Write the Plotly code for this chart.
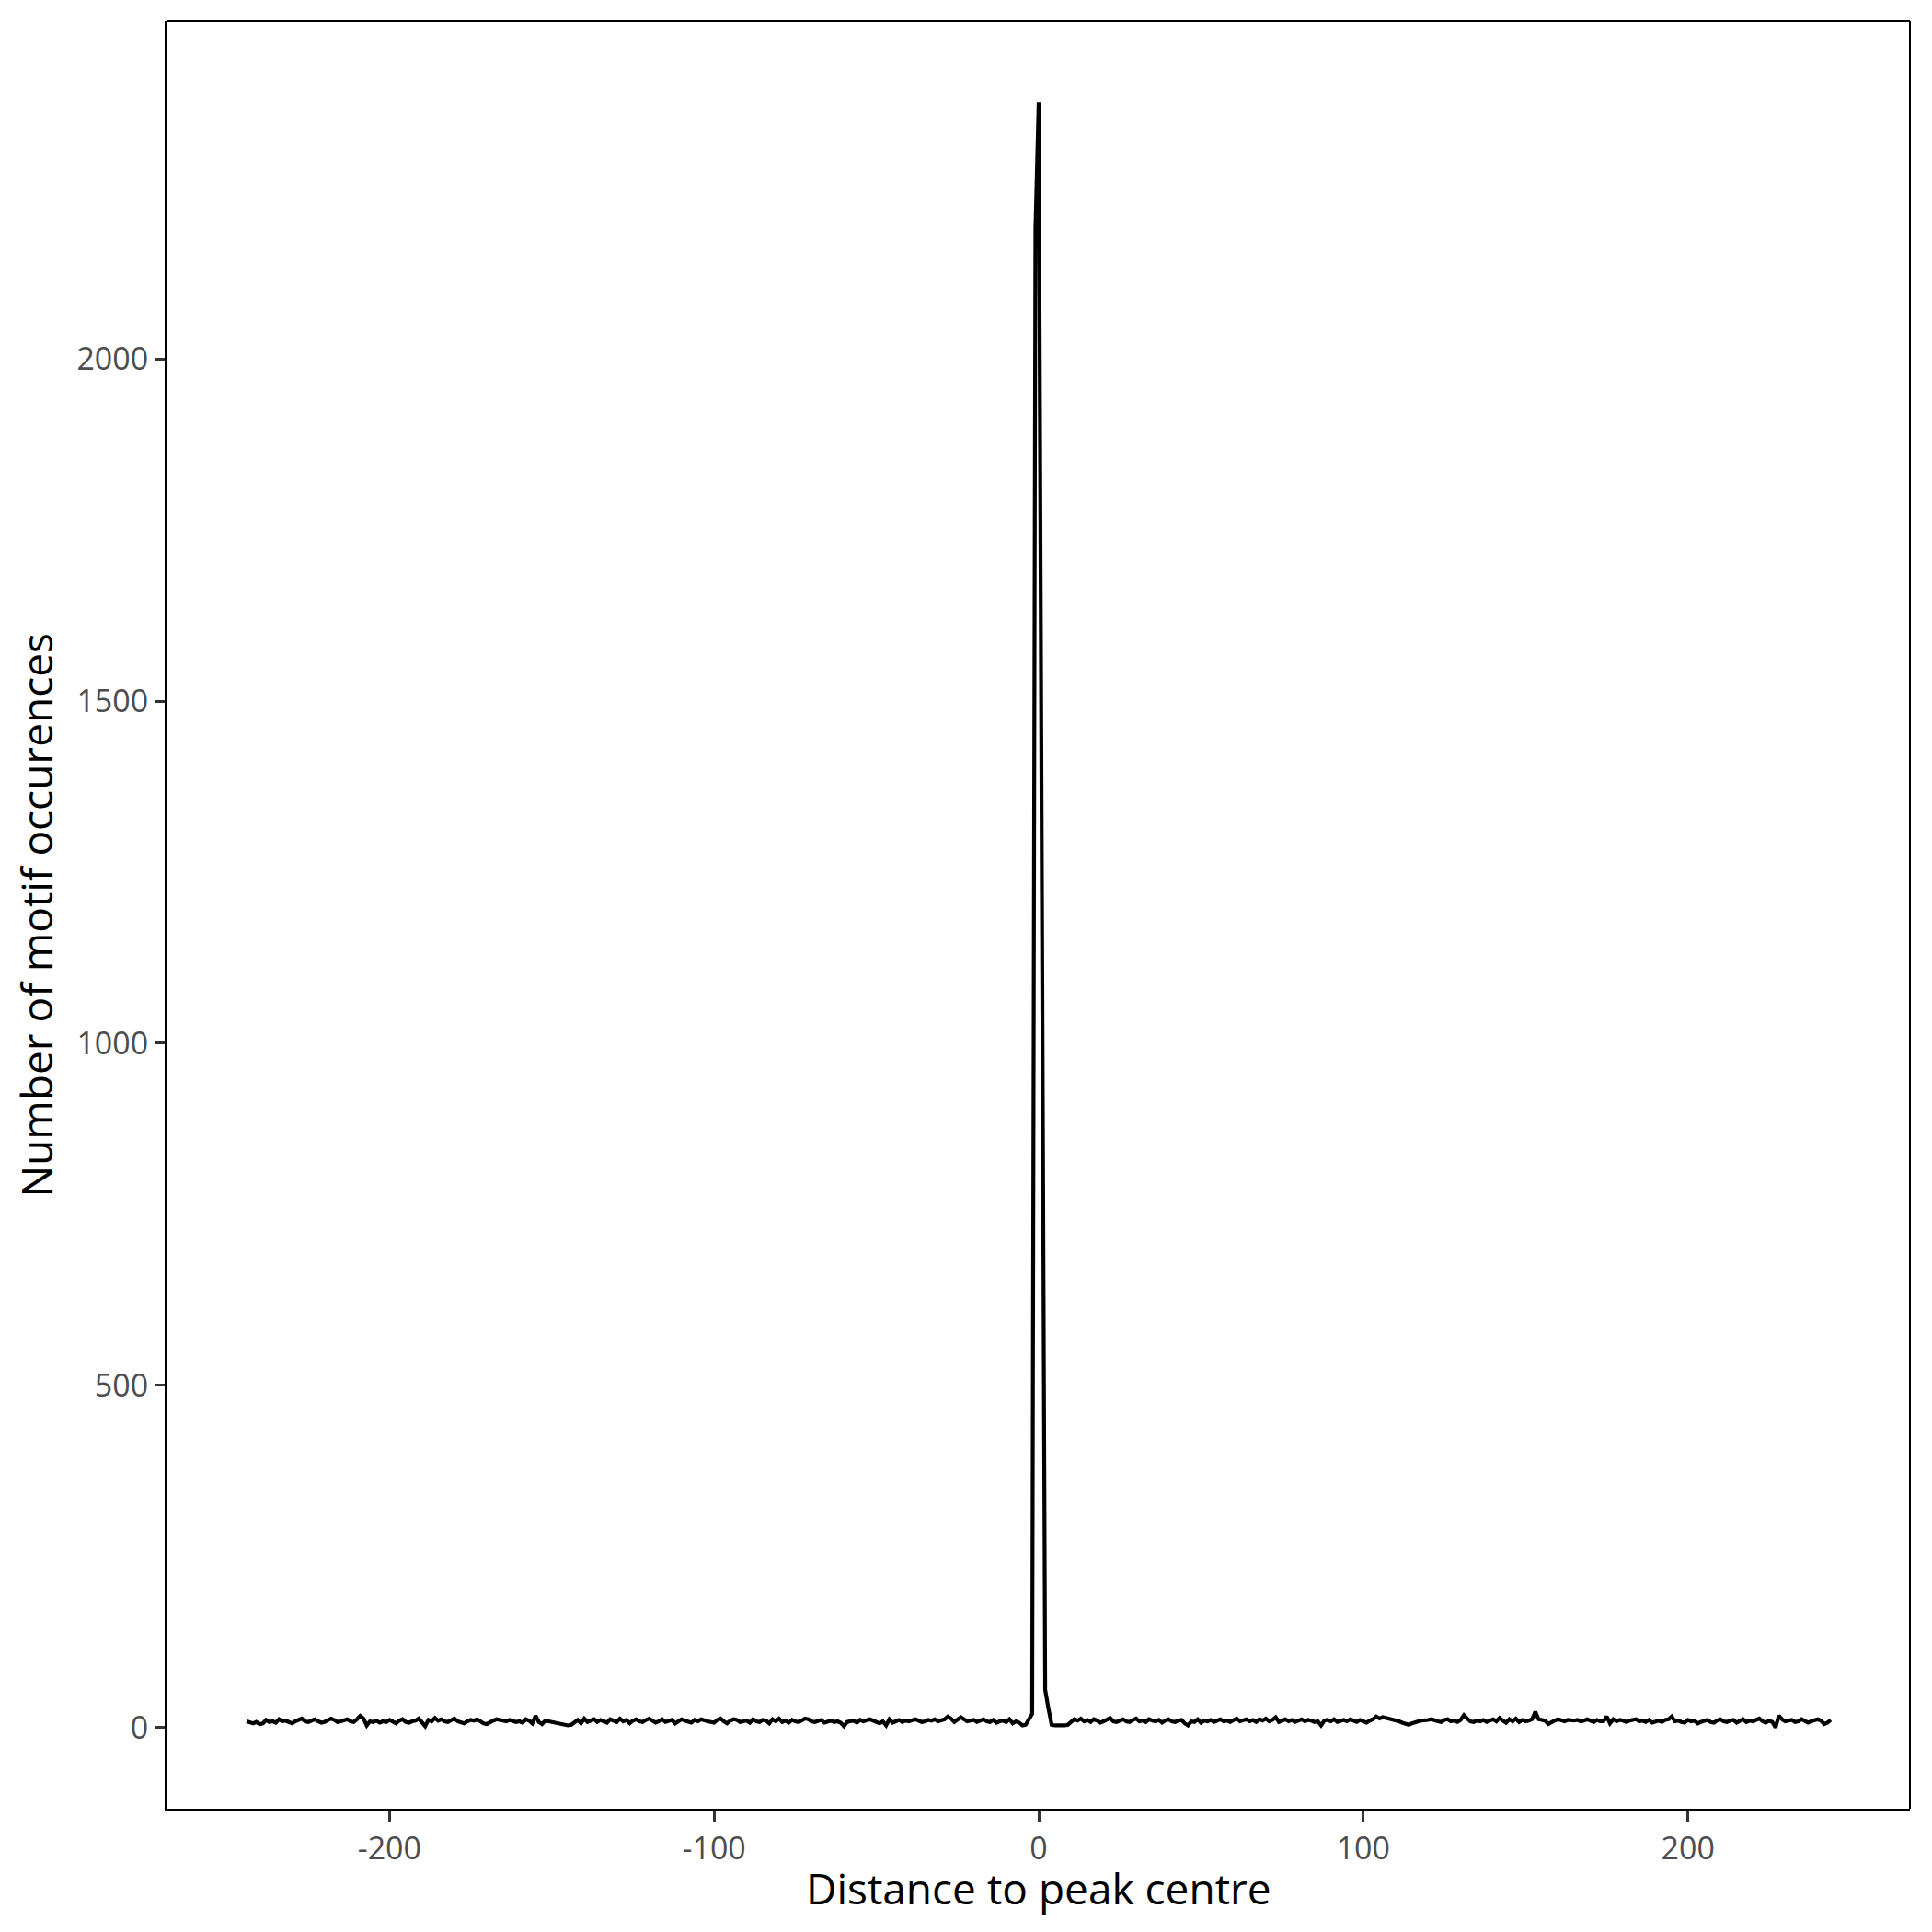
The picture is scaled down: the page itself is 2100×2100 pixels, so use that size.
import plotly.graph_objects as go

# Distance to peak centre (bp)
distance = list(range(-244, 245))

# Number of motif occurrences at each distance
counts = [
    # -244 .. -225
    9, 7, 6, 8, 5, 6, 11, 8, 9, 7, 12, 9, 10, 8, 6, 9, 11, 13, 9, 8,
    # -224 .. -205
    10, 12, 9, 7, 8, 10, 13, 11, 8, 9, 10, 12, 9, 8, 12, 17, 13, 3, 9, 8,
    # -204 .. -185
    10, 7, 9, 8, 11, 9, 6, 10, 12, 8, 7, 9, 10, 13, 7, 2, 11, 9, 14, 10,
    # -184 .. -165
    12, 9, 8, 11, 13, 9, 7, 6, 9, 11, 10, 12, 9, 6, 5, 8, 10, 12, 11, 9,
    # -164 .. -145
    9, 11, 10, 8, 9, 7, 12, 10, 6, 17, 8, 5, 10, 9, 7, 6, 5, 5, 4, 3,
    # -144 .. -125
    4, 7, 11, 6, 13, 8, 10, 12, 8, 11, 9, 7, 12, 10, 8, 13, 9, 11, 6, 10,
    # -124 .. -105
    12, 9, 8, 11, 13, 10, 7, 9, 12, 8, 10, 11, 6, 9, 12, 10, 8, 7, 11, 9,
    # -104 .. -85
    12, 10, 9, 8, 7, 11, 13, 9, 6, 10, 12, 11, 8, 9, 10, 7, 12, 9, 8, 11,
    # -84 .. -65
    10, 6, 12, 9, 13, 8, 10, 7, 11, 9, 8, 10, 13, 12, 9, 8, 10, 11, 7, 9,
    # -64 .. -45
    10, 8, 9, 7, 2, 8, 9, 10, 7, 11, 9, 10, 12, 10, 8, 6, 9, 3, 12, 7,
    # -44 .. -25
    9, 11, 8, 10, 9, 11, 12, 10, 8, 9, 11, 10, 12, 9, 10, 12, 16, 13, 8, 12,
    # -24 .. -5
    15, 12, 9, 10, 11, 8, 10, 12, 9, 8, 11, 7, 9, 10, 8, 12, 6, 9, 7, 3,
    # -4 .. 4
    4, 12, 20, 2190, 2375, 1215, 55, 28, 4,
    # 5 .. 24
    3, 3, 2, 3, 4, 8, 12, 10, 13, 9, 11, 8, 12, 10, 7, 9, 11, 14, 9, 8,
    # 25 .. 44
    10, 12, 9, 8, 11, 13, 9, 10, 8, 12, 10, 9, 11, 7, 10, 12, 9, 8, 10, 11,
    # 45 .. 64
    6, 3, 9, 8, 12, 7, 10, 9, 11, 8, 10, 12, 9, 10, 8, 11, 13, 9, 10, 12,
    # 65 .. 84
    9, 11, 8, 12, 10, 13, 9, 11, 15, 8, 10, 12, 9, 11, 8, 10, 12, 9, 11, 10,
    # 85 .. 104
    8, 9, 3, 10, 11, 9, 12, 8, 10, 11, 9, 12, 10, 8, 11, 9, 7, 10, 12, 16,
    # 105 .. 124
    13, 15, 14, 12, 11, 10, 9, 7, 6, 4, 6, 8, 9, 10, 10, 11, 12, 10, 9, 8,
    # 125 .. 144
    11, 12, 9, 10, 8, 11, 18, 13, 9, 8, 10, 9, 11, 8, 10, 12, 9, 14, 10, 7,
    # 145 .. 164
    12, 9, 13, 8, 11, 9, 10, 12, 23, 12, 11, 10, 5, 8, 10, 12, 11, 9, 11, 10,
    # 165 .. 184
    10, 11, 9, 10, 12, 10, 8, 11, 9, 9, 16, 6, 12, 9, 11, 10, 8, 10, 11, 12,
    # 185 .. 204
    9, 10, 8, 11, 7, 9, 10, 8, 11, 12, 16, 9, 10, 8, 7, 11, 9, 10, 6, 8,
    # 205 .. 224
    9, 11, 8, 7, 10, 12, 9, 8, 10, 11, 7, 9, 12, 8, 10, 9, 11, 13, 9, 7,
    # 225 .. 244
    10, 8, 0, 17, 12, 9, 10, 11, 8, 9, 12, 10, 7, 9, 11, 12, 10, 5, 7, 11,
]
assert len(counts) == len(distance)

x_ticks = [-200, -100, 0, 100, 200]
y_ticks = [0, 500, 1000, 1500, 2000]

x_title = "Distance to peak centre"
y_title = "Number of motif occurences"

FONT = "Open Sans"

fig = go.Figure()
fig.add_trace(go.Scatter(
    x=distance, y=counts, mode="lines",
    line=dict(color="black", width=4.2),
    showlegend=False,
))

xmin, xmax = min(distance), max(distance)
ymin, ymax = min(counts), max(counts)
xpad = 0.05 * (xmax - xmin)
ypad = 0.05 * (ymax - ymin)

axis_common = dict(
    showgrid=False, zeroline=False,
    showline=True, linecolor="black", linewidth=3,
    ticks="outside", ticklen=11, tickwidth=3, tickcolor="#333333",
    tickfont=dict(family=FONT, size=34, color="#4D4D4D"),
)

fig.update_xaxes(range=[xmin - xpad, xmax + xpad], tickvals=x_ticks,
                 ticktext=[str(v) for v in x_ticks], **axis_common)
fig.update_yaxes(range=[ymin - ypad, ymax + ypad], tickvals=y_ticks,
                 ticktext=[str(v) for v in y_ticks], **axis_common)

# thin top/right panel border
fig.add_shape(type="line", xref="paper", yref="paper", x0=0, x1=1, y0=1, y1=1,
              line=dict(color="black", width=2))
fig.add_shape(type="line", xref="paper", yref="paper", x0=1, x1=1, y0=0, y1=1,
              line=dict(color="black", width=2))

fig.add_annotation(text=x_title, xref="paper", yref="paper", x=0.5, y=-0.0445,
                   xanchor="center", yanchor="middle", showarrow=False,
                   font=dict(family=FONT, size=46, color="black"))
fig.add_annotation(text=y_title, xref="paper", yref="paper", x=-0.076, y=0.5,
                   xanchor="center", yanchor="middle", showarrow=False, textangle=-90,
                   font=dict(family=FONT, size=46, color="black"))

fig.update_layout(
    width=2100, height=2100,
    margin=dict(l=174, r=32, t=15, b=142),
    paper_bgcolor="white", plot_bgcolor="white",
    font=dict(family=FONT),
)

fig.write_html("out.html")
